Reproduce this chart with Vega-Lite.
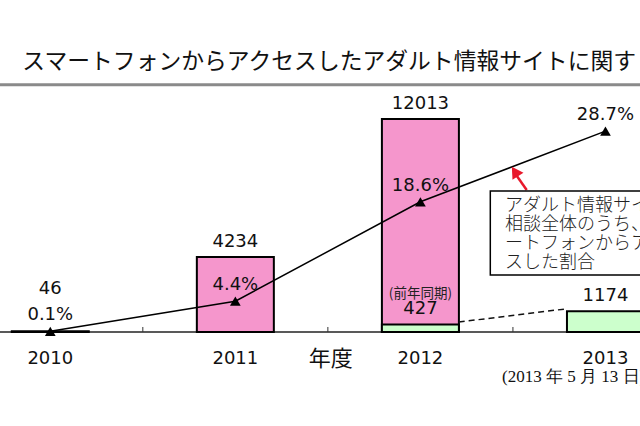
{
  "$schema": "https://vega.github.io/schema/vega-lite/v6.json",
  "width": 640,
  "height": 426,
  "autosize": {"type": "none"},
  "padding": 0,
  "background": "white",
  "config": {"view": {"stroke": null}},
  "datasets": {
    "bars": [
      {"year": 2010, "kind": "相談件数", "count": 46},
      {"year": 2011, "kind": "相談件数", "count": 4234},
      {"year": 2012, "kind": "相談件数", "count": 12013},
      {"year": 2012, "kind": "前年同期", "count": 427},
      {"year": 2013, "kind": "前年同期", "count": 1174}
    ],
    "rate": [
      {"year": 2010, "pct": 0.1, "label": "0.1%"},
      {"year": 2011, "pct": 4.4, "label": "4.4%"},
      {"year": 2012, "pct": 18.6, "label": "18.6%"},
      {"year": 2013, "pct": 28.7, "label": "28.7%"}
    ],
    "years": [
      {"year": 2010, "label": "2010"},
      {"year": 2011, "label": "2011"},
      {"year": 2012, "label": "2012"},
      {"year": 2013, "label": "2013"}
    ],
    "ticks": [{"year": 2010.5}, {"year": 2011.5}, {"year": 2012.5}]
  },
  "layer": [
    {
      "data": {"values": [{"t": "line"}]},
      "mark": {"type": "rule", "color": "#8a8a8a", "strokeWidth": 3},
      "encoding": {
        "y": {"datum": 13948, "type": "quantitative", "scale": {"domain": [-5302, 18725], "nice": false, "zero": false}, "axis": null}
      }
    },
    {
      "data": {"values": [{"label": "スマートフォンからアクセスしたアダルト情報サイトに関す"}]},
      "mark": {"type": "text", "font": "Noto Sans CJK JP", "fontSize": 22.8, "align": "left", "baseline": "middle", "color": "#111"},
      "encoding": {
        "x": {"datum": 2009.849, "type": "quantitative", "scale": {"domain": [2009.7553, 2013.1596], "nice": false, "zero": false}, "axis": null},
        "y": {"datum": 15228, "type": "quantitative", "scale": {"domain": [-5302, 18725], "nice": false, "zero": false}, "axis": null},
        "text": {"field": "label"}
      }
    },
    {
      "data": {"values": [{"t": "base"}]},
      "mark": {"type": "rule", "color": "#222", "strokeWidth": 1.5},
      "encoding": {
        "y": {"datum": 0, "type": "quantitative", "scale": {"domain": [-5302, 18725], "nice": false, "zero": false}, "axis": null}
      }
    },
    {
      "data": {"name": "ticks"},
      "mark": {"type": "rule", "color": "#333", "strokeWidth": 1},
      "encoding": {
        "x": {"field": "year", "type": "quantitative", "scale": {"domain": [2009.7553, 2013.1596], "nice": false, "zero": false}, "axis": null},
        "y": {"datum": 0, "type": "quantitative", "scale": {"domain": [-5302, 18725], "nice": false, "zero": false}, "axis": null},
        "y2": {"datum": 282}
      }
    },
    {
      "data": {"name": "bars"},
      "mark": {"type": "bar", "width": 77, "stroke": "#000", "strokeWidth": 2},
      "encoding": {
        "x": {"field": "year", "type": "quantitative", "scale": {"domain": [2009.7553, 2013.1596], "nice": false, "zero": false}, "axis": null},
        "y": {"field": "count", "type": "quantitative", "scale": {"domain": [-5302, 18725], "nice": false, "zero": false}, "axis": null},
        "y2": {"datum": 0},
        "color": {"field": "kind", "type": "nominal", "scale": {"domain": ["相談件数", "前年同期"], "range": ["#F596CC", "#CCFFCC"]}, "legend": null}
      }
    },
    {
      "data": {"values": [{"t": "dash"}]},
      "mark": {"type": "rule", "color": "#111", "strokeWidth": 1.5, "strokeDash": [6, 4]},
      "encoding": {
        "x": {"datum": 2012.207, "type": "quantitative", "scale": {"domain": [2009.7553, 2013.1596], "nice": false, "zero": false}, "axis": null},
        "x2": {"datum": 2012.782},
        "y": {"datum": 560, "type": "quantitative", "scale": {"domain": [-5302, 18725], "nice": false, "zero": false}, "axis": null},
        "y2": {"datum": 1297}
      }
    },
    {
      "data": {"name": "bars"},
      "transform": [{"filter": "datum.count > 100"}],
      "mark": {"type": "text", "font": "DejaVu Sans", "fontSize": 18, "baseline": "middle", "dy": -15, "color": "#111"},
      "encoding": {
        "x": {"field": "year", "type": "quantitative", "scale": {"domain": [2009.7553, 2013.1596], "nice": false, "zero": false}, "axis": null},
        "y": {"field": "count", "type": "quantitative", "scale": {"domain": [-5302, 18725], "nice": false, "zero": false}, "axis": null},
        "text": {"field": "count", "type": "quantitative", "format": "d"}
      }
    },
    {
      "data": {"name": "bars"},
      "transform": [{"filter": "datum.count < 100"}],
      "mark": {"type": "text", "font": "DejaVu Sans", "fontSize": 18, "baseline": "middle", "dy": -42, "color": "#111"},
      "encoding": {
        "x": {"field": "year", "type": "quantitative", "scale": {"domain": [2009.7553, 2013.1596], "nice": false, "zero": false}, "axis": null},
        "y": {"field": "count", "type": "quantitative", "scale": {"domain": [-5302, 18725], "nice": false, "zero": false}, "axis": null},
        "text": {"field": "count", "type": "quantitative", "format": "d"}
      }
    },
    {
      "data": {"values": [{"year": 2012, "count": 427, "label": "(前年同期)"}]},
      "mark": {"type": "text", "font": "Noto Sans CJK JP", "fontSize": 13.5, "baseline": "middle", "dy": -30, "color": "#222"},
      "encoding": {
        "x": {"field": "year", "type": "quantitative", "scale": {"domain": [2009.7553, 2013.1596], "nice": false, "zero": false}, "axis": null},
        "y": {"field": "count", "type": "quantitative", "scale": {"domain": [-5302, 18725], "nice": false, "zero": false}, "axis": null},
        "text": {"field": "label"}
      }
    },
    {
      "data": {"name": "rate"},
      "mark": {"type": "line", "color": "#000", "strokeWidth": 1.5},
      "encoding": {
        "x": {"field": "year", "type": "quantitative", "scale": {"domain": [2009.7553, 2013.1596], "nice": false, "zero": false}, "axis": null},
        "y": {"field": "pct", "type": "quantitative", "scale": {"domain": [-13.43, 47.43], "nice": false, "zero": false}, "axis": null}
      }
    },
    {
      "data": {"name": "rate"},
      "mark": {"type": "point", "shape": "triangle-up", "filled": true, "color": "#000", "size": 115, "opacity": 1},
      "encoding": {
        "x": {"field": "year", "type": "quantitative", "scale": {"domain": [2009.7553, 2013.1596], "nice": false, "zero": false}, "axis": null},
        "y": {"field": "pct", "type": "quantitative", "scale": {"domain": [-13.43, 47.43], "nice": false, "zero": false}, "axis": null}
      }
    },
    {
      "data": {"name": "rate"},
      "mark": {"type": "text", "font": "DejaVu Sans", "fontSize": 18, "baseline": "middle", "dy": -16, "color": "#111"},
      "encoding": {
        "x": {"field": "year", "type": "quantitative", "scale": {"domain": [2009.7553, 2013.1596], "nice": false, "zero": false}, "axis": null},
        "y": {"field": "pct", "type": "quantitative", "scale": {"domain": [-13.43, 47.43], "nice": false, "zero": false}, "axis": null},
        "text": {"field": "label"}
      }
    },
    {
      "data": {"values": [{"t": "arrow"}]},
      "mark": {"type": "rule", "color": "#e8192c", "strokeWidth": 2.5},
      "encoding": {
        "x": {"datum": 2012.5745, "type": "quantitative", "scale": {"domain": [2009.7553, 2013.1596], "nice": false, "zero": false}, "axis": null},
        "x2": {"datum": 2012.508},
        "y": {"datum": 8009, "type": "quantitative", "scale": {"domain": [-5302, 18725], "nice": false, "zero": false}, "axis": null},
        "y2": {"datum": 9000}
      }
    },
    {
      "data": {"values": [{"t": "arrowhead"}]},
      "mark": {"type": "point", "shape": "triangle-up", "filled": true, "color": "#e8192c", "size": 170, "angle": 327, "opacity": 1},
      "encoding": {
        "x": {"datum": 2012.5106, "type": "quantitative", "scale": {"domain": [2009.7553, 2013.1596], "nice": false, "zero": false}, "axis": null},
        "y": {"datum": 9050, "type": "quantitative", "scale": {"domain": [-5302, 18725], "nice": false, "zero": false}, "axis": null}
      }
    },
    {
      "data": {"values": [{"t": "box"}]},
      "mark": {"type": "rect", "fill": "white", "stroke": "#000", "strokeWidth": 1.5},
      "encoding": {
        "x": {"datum": 2012.3777, "type": "quantitative", "scale": {"domain": [2009.7553, 2013.1596], "nice": false, "zero": false}, "axis": null},
        "x2": {"datum": 2013.35},
        "y": {"datum": 7953, "type": "quantitative", "scale": {"domain": [-5302, 18725], "nice": false, "zero": false}, "axis": null},
        "y2": {"datum": 3215}
      }
    },
    {
      "data": {"values": [{"lines": ["アダルト情報サイトの", "相談全体のうち、スマ", "ートフォンからアクセ", "スした割合"]}]},
      "mark": {"type": "text", "font": "Noto Sans CJK JP", "fontSize": 18, "fontWeight": 300, "align": "left", "baseline": "top", "lineHeight": 19, "color": "#222"},
      "encoding": {
        "x": {"datum": 2012.457, "type": "quantitative", "scale": {"domain": [2009.7553, 2013.1596], "nice": false, "zero": false}, "axis": null},
        "y": {"datum": 7614, "type": "quantitative", "scale": {"domain": [-5302, 18725], "nice": false, "zero": false}, "axis": null},
        "text": {"field": "lines"}
      }
    },
    {
      "data": {"name": "years"},
      "mark": {"type": "text", "font": "DejaVu Sans", "fontSize": 18, "baseline": "middle", "color": "#111"},
      "encoding": {
        "x": {"field": "year", "type": "quantitative", "scale": {"domain": [2009.7553, 2013.1596], "nice": false, "zero": false}, "axis": null},
        "y": {"datum": -1523, "type": "quantitative", "scale": {"domain": [-5302, 18725], "nice": false, "zero": false}, "axis": null},
        "text": {"field": "label"}
      }
    },
    {
      "data": {"values": [{"label": "年度"}]},
      "mark": {"type": "text", "font": "Noto Sans CJK JP", "fontSize": 22, "baseline": "middle", "color": "#111"},
      "encoding": {
        "x": {"datum": 2011.516, "type": "quantitative", "scale": {"domain": [2009.7553, 2013.1596], "nice": false, "zero": false}, "axis": null},
        "y": {"datum": -1523, "type": "quantitative", "scale": {"domain": [-5302, 18725], "nice": false, "zero": false}, "axis": null},
        "text": {"field": "label"}
      }
    },
    {
      "data": {"values": [{"label": "(2013 年 5 月 13 日)"}]},
      "mark": {"type": "text", "font": "Liberation Serif", "fontSize": 17, "align": "left", "baseline": "middle", "color": "#111"},
      "encoding": {
        "x": {"datum": 2012.4415, "type": "quantitative", "scale": {"domain": [2009.7553, 2013.1596], "nice": false, "zero": false}, "axis": null},
        "y": {"datum": -2538, "type": "quantitative", "scale": {"domain": [-5302, 18725], "nice": false, "zero": false}, "axis": null},
        "text": {"field": "label"}
      }
    }
  ],
  "resolve": {"scale": {"y": "independent"}}
}
